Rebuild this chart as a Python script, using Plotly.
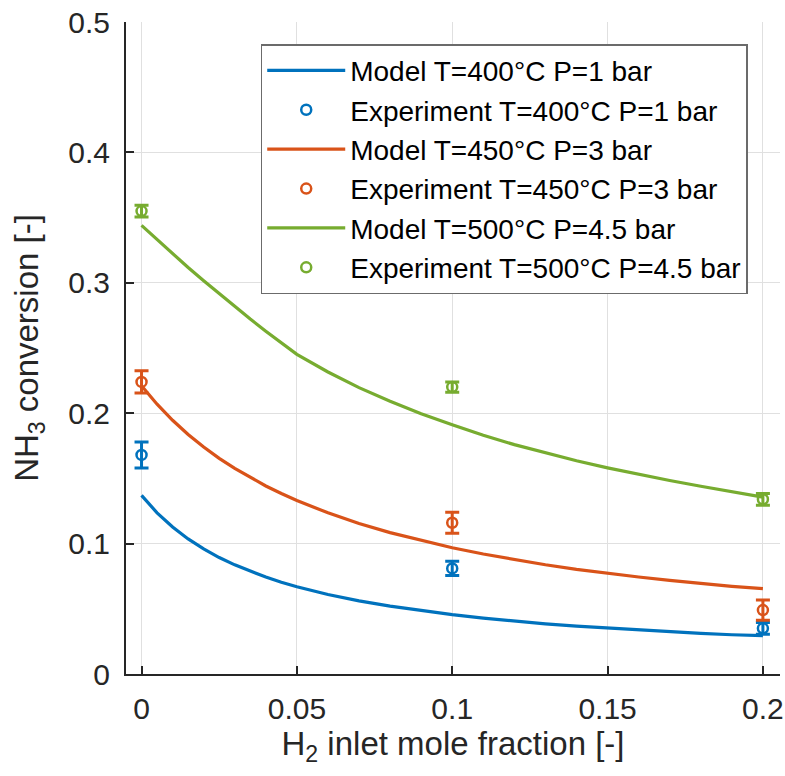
import plotly.graph_objects as go

# ---- data ----
x_model = [0, 0.005, 0.01, 0.015, 0.02, 0.025, 0.03, 0.035, 0.04, 0.045, 0.05,
           0.06, 0.07, 0.08, 0.09, 0.1, 0.11, 0.12, 0.13, 0.14, 0.15,
           0.16, 0.17, 0.18, 0.19, 0.2]
model_400 = [0.137, 0.1236, 0.1127, 0.1036, 0.0959, 0.0893, 0.0837, 0.0787, 0.0743, 0.0704, 0.0669,
             0.0610, 0.0561, 0.0520, 0.0485, 0.0455, 0.0429, 0.0406, 0.0385, 0.0367, 0.0352,
             0.0337, 0.0324, 0.0312, 0.0301, 0.0294]
model_450 = [0.221, 0.2069, 0.1946, 0.1837, 0.1741, 0.1654, 0.1577, 0.1506, 0.1442, 0.1384, 0.1330,
             0.1236, 0.1154, 0.1084, 0.1023, 0.0968, 0.0920, 0.0877, 0.0838, 0.0803, 0.0772,
             0.0744, 0.0718, 0.0694, 0.0672, 0.0654]
model_500 = [0.344, 0.3330, 0.3222, 0.3117, 0.3015, 0.2915, 0.2817, 0.2722, 0.2629, 0.2539, 0.2451,
             0.2316, 0.2196, 0.2091, 0.1996, 0.1911, 0.1831, 0.1759, 0.1694, 0.1635, 0.1581,
             0.1531, 0.1484, 0.1440, 0.1397, 0.1357]

x_exp = [0, 0.1, 0.2]
exp_400 = [0.168, 0.081, 0.035]
err_400 = [0.010, 0.0054, 0.0045]
exp_450 = [0.224, 0.116, 0.049]
err_450 = [0.0086, 0.008, 0.0078]
exp_500 = [0.355, 0.220, 0.134]
err_500 = [0.0045, 0.004, 0.0045]

names = ["T=400°C P=1 bar", "T=450°C P=3 bar", "T=500°C P=4.5 bar"]
colors = ["#0072BD", "#D95319", "#77AC30"]

x_ticks = [0, 0.05, 0.1, 0.15, 0.2]
x_ticklabels = ["0", "0.05", "0.1", "0.15", "0.2"]
y_ticks = [0, 0.1, 0.2, 0.3, 0.4, 0.5]
y_ticklabels = ["0", "0.1", "0.2", "0.3", "0.4", "0.5"]

fig = go.Figure()
models = [model_400, model_450, model_500]
exps = [exp_400, exp_450, exp_500]
errs = [err_400, err_450, err_500]
for name, col, m, e, er in zip(names, colors, models, exps, errs):
    fig.add_trace(go.Scatter(
        x=x_model, y=m, mode="lines", name="Model " + name,
        line=dict(color=col, width=3.2)))
    fig.add_trace(go.Scatter(
        x=x_exp, y=e, mode="markers", name="Experiment " + name,
        marker=dict(symbol="circle-open", size=10, color=col, line=dict(width=2.5, color=col)),
        error_y=dict(type="data", array=er, visible=True, color=col, thickness=3, width=7)))

FAM = "Liberation Sans, Arial, sans-serif"
axis_font = dict(family=FAM, size=30, color="#262626")
fig.update_layout(
    width=785, height=776,
    margin=dict(l=126, r=5, t=22, b=102, autoexpand=False),
    paper_bgcolor="white", plot_bgcolor="white",
    font=dict(family=FAM, color="#262626"),
    showlegend=True,
    legend=dict(
        x=0.206, y=0.966, xanchor="left", yanchor="top",
        bgcolor="white", bordercolor="#6b6b6b", borderwidth=1.5,
        font=dict(family=FAM, size=28, color="#000000"),
        itemwidth=78, tracegroupgap=0,
    ),
    xaxis=dict(
        range=[-0.005, 0.2055], tickvals=x_ticks, ticktext=x_ticklabels,
        showgrid=True, gridcolor="#e0e0e0", gridwidth=1.2,
        showline=True, linecolor="#262626", linewidth=2, mirror=False,
        ticks="inside", ticklen=8, tickwidth=2, tickcolor="#262626",
        tickfont=axis_font, zeroline=False, ticklabelstandoff=7, automargin=False,
        title=dict(text="H<sub>2</sub> inlet mole fraction [-]",
                   font=dict(family=FAM, size=33, color="#262626"),
                   standoff=8),
    ),
    yaxis=dict(
        range=[0, 0.5], tickvals=y_ticks, ticktext=y_ticklabels,
        showgrid=True, gridcolor="#e0e0e0", gridwidth=1.2,
        showline=True, linecolor="#262626", linewidth=2, mirror=False,
        ticks="inside", ticklen=8, tickwidth=2, tickcolor="#262626",
        tickfont=axis_font, zeroline=False, ticklabelstandoff=8, automargin=False,
        title=dict(text="NH<sub>3</sub> conversion [-]",
                   font=dict(family=FAM, size=33, color="#262626"),
                   standoff=20),
    ),
)

fig.write_html("out.html", config={"displayModeBar": False},
               post_script="document.body.style.margin='0';document.body.style.overflow='hidden';")
